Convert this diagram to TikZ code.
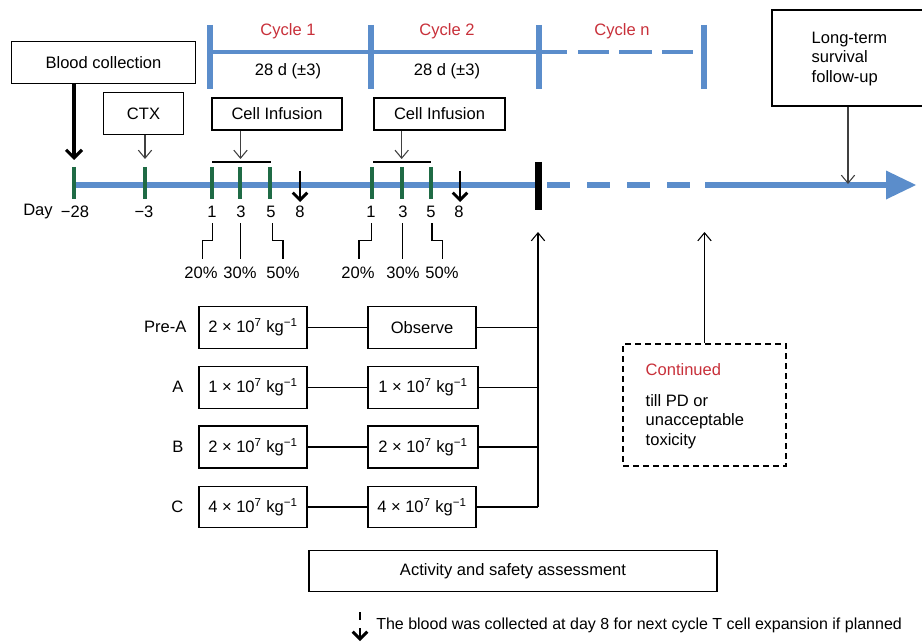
\documentclass[tikz,border=0pt]{standalone}
\usepackage{fontspec}
\setmainfont{Liberation Sans}
\usetikzlibrary{arrows.meta}
\definecolor{tlblue}{HTML}{5B8DCB}
\definecolor{tkgreen}{HTML}{1F6B45}
\definecolor{cyred}{HTML}{C8303A}
\definecolor{arrgray}{HTML}{404040}
\begin{document}
\begin{tikzpicture}[x=0.75pt,y=-0.75pt,
  font=\fontsize{12.4}{14.6}\selectfont,
  wh/.style 2 args={minimum width=#1*0.75pt, minimum height=#2*0.75pt},
  box/.style={draw, line width=1.1pt, inner sep=0pt, align=center},
  tl/.style={draw=tlblue, line width=4.5pt},
  cyc/.style={draw=tlblue, line width=3pt},
  cycbar/.style={draw=tlblue, line width=4.5pt},
  tickmark/.style={draw=tkgreen, line width=3pt},
  thinarr/.style={draw=arrgray, line width=0.8pt, -{Straight Barb[length=6pt,width=10pt,line width=0.8pt]}},
  bigarr/.style={draw=black, line width=2.3pt, -{Straight Barb[length=6pt,width=12pt,line width=2.3pt]}},
  smallarr/.style={draw=black, line width=2.2pt, -{Straight Barb[length=5.5pt,width=11pt,line width=2.2pt]}},
  conn/.style={draw=black, line width=0.9pt},
  red/.style={text=cyred},
]
\useasboundingbox (0,0) rectangle (922,642);

% ---- cycles header ----
\draw[cyc] (210,52) -- (567,52);
\foreach \a/\b in {578/609,619/652,662/693} \draw[cyc] (\a,52) -- (\b,52);
\foreach \x in {210,370.5,539,703.5} \draw[cycbar] (\x,25) -- (\x,89);
\node[red] (c1) at (288,31) {Cycle 1};
\node[red] (c2) at (447,31) {Cycle 2};
\node[red] (cn) at (622,31) {Cycle n};
\node (d1) at (288,71.5) {28 d (±3)};
\node (d2) at (447,71.5) {28 d (±3)};

% ---- boxes top ----
\node[box, wh={184}{42}] (blood) at (103.5,62.5) {Blood collection};
\node[box, wh={80}{42}] (ctx) at (143.5,113.5) {CTX};
\node[box, wh={130}{32}] (ci1) at (277,114) {Cell Infusion};
\node[box, wh={131}{32}] (ci2) at (439.5,114) {Cell Infusion};
\node[box, wh={152}{96}] (lt) at (848,58) {};
\node[anchor=west, align=left] (ltt) at (807,59) {Long-term\\survival\\follow-up};

% ---- timeline ----
\draw[tl] (74,185) -- (541,185);
\foreach \a/\b in {547/570,587/610,627/650,667/690} \draw[tl] (\a,185) -- (\b,185);
\draw[tl] (705,185) -- (889,185);
\fill[tlblue] (886,170.5) -- (916,185) -- (886,199.5) -- cycle;
\foreach \x in {74,144.7,211.5,240,270,371.7,402,431.3} \draw[tickmark] (\x,167) -- (\x,199);
\draw[line width=5.2pt] (538.3,162) -- (538.3,210);

\coordinate (bloodend) at (74,160);
\coordinate (ctxend) at (145,159);
\coordinate (ci1end) at (240.5,159);
\coordinate (ci2end) at (401.7,159);
\coordinate (ltend) at (848,184);
\draw[bigarr] (blood.south -| bloodend) -- (bloodend);
\draw[thinarr] (ctx.south -| ctxend) -- (ctxend);
\draw[thinarr] (ci1.south -| ci1end) -- (ci1end);
\draw[thinarr] (ci2.south -| ci2end) -- (ci2end);
\draw[thinarr] (lt.south -| ltend) -- (ltend);
\draw[line width=0.9pt] (212,162) -- (270.5,162);
\draw[line width=0.9pt] (373,162) -- (431,162);

\coordinate (a8s) at (300,171);
\coordinate (a8e) at (300,202);
\coordinate (b8s) at (460,171);
\coordinate (b8e) at (460,202);
\draw[smallarr] (a8s) -- (a8e);
\draw[smallarr] (b8s) -- (b8e);

% ---- day labels ----
\node (day) at (38,211.5) {Day};
\foreach \x/\t in {75/−28,144/−3,212/1,241/3,271/5,300/8,371/1,403/3,431/5,459/8}
  \node at (\x,211.5) {\t};

% ---- percent brackets ----
\draw[conn] (212.7,223) -- (212.7,240.5) -- (202.5,240.5) -- (202.5,259);
\draw[conn] (240.7,223) -- (240.7,259);
\draw[conn] (272.7,223) -- (272.7,240.5) -- (283,240.5) -- (283,259);
\draw[conn] (371.7,223) -- (371.7,240.5) -- (359,240.5) -- (359,259);
\draw[conn] (402.7,223) -- (402.7,259);
\draw[conn] (432,223) -- (432,240.5) -- (442.7,240.5) -- (442.7,259);
\foreach \x/\t in {201/20\%,240/30\%,283/50\%,358/20\%,403/30\%,442/50\%}
  \node at (\x,273) {\t};

% ---- dose arms ----
\node[anchor=east] (lpa) at (191,327) {Pre-A};
\node[anchor=east] (la) at (188,387) {A};
\node[anchor=east] (lb) at (188,447) {B};
\node[anchor=east] (lc) at (188,507) {C};
\node[box, wh={108}{42}] (pa1) at (253,327.5) {2 × 10\textsuperscript{7} kg\textsuperscript{−1}};
\node[box, wh={108}{42}] (a1)  at (253,387.5) {1 × 10\textsuperscript{7} kg\textsuperscript{−1}};
\node[box, wh={108}{42}] (b1)  at (253,447) {2 × 10\textsuperscript{7} kg\textsuperscript{−1}};
\node[box, wh={108}{41}] (cc1) at (253,507) {4 × 10\textsuperscript{7} kg\textsuperscript{−1}};
\node[box, wh={108}{42}] (pa2) at (422,327.5) {Observe};
\node[box, wh={110}{42}] (a2)  at (423,387.5) {1 × 10\textsuperscript{7} kg\textsuperscript{−1}};
\node[box, wh={110}{42}] (b2)  at (423,447) {2 × 10\textsuperscript{7} kg\textsuperscript{−1}};
\node[box, wh={108}{41}] (cc2) at (422,507) {4 × 10\textsuperscript{7} kg\textsuperscript{−1}};
\draw[conn] (pa1) -- (pa2);
\draw[conn] (a1) -- (a2);
\draw[conn] (b1) -- (b2);
\draw[conn] (cc1) -- (cc2);
\coordinate (jpa) at (538,327.5);
\coordinate (ja) at (538,387.5);
\coordinate (jb) at (538,447);
\coordinate (jc) at (538,507);
\coordinate (upend) at (538,232);
\draw[line width=1.3pt] (pa2) -- (jpa);
\draw[line width=1.3pt] (a2) -- (ja);
\draw[conn] (b2) -- (jb);
\draw[conn] (cc2) -- (jc);
\draw[thinarr, draw=black] (jc) -- (upend);

% ---- continued ----
\node[draw, line width=1.1pt, dash pattern=on 4.5pt off 3pt, inner sep=0pt, wh={163}{122}] (cont) at (704.5,405) {};
\node[anchor=west, red] (contt) at (641,370) {Continued};
\node[anchor=north west, align=left, font=\fontsize{12.4}{14.4}\selectfont] (contx) at (641,390) {till PD or\\unacceptable\\toxicity};
\coordinate (up2end) at (704.5,232);
\draw[thinarr, draw=black] (cont.north) -- (up2end);

% ---- assessment ----
\node[box, wh={408}{41}] (assess) at (513,571) {Activity and safety assessment};

% ---- legend ----
\coordinate (lgs) at (360,612);
\coordinate (lgm) at (360,620);
\coordinate (lge) at (360,641);
\draw[line width=2.2pt] (lgs) -- (lgm);
\draw[smallarr] (360,628) -- (lge);
\node[anchor=west, inner sep=0pt, font=\fontsize{12}{14}\selectfont] (legend) at (376,625) {The blood was collected at day 8 for next cycle T cell expansion if planned};
\end{tikzpicture}
\end{document}
